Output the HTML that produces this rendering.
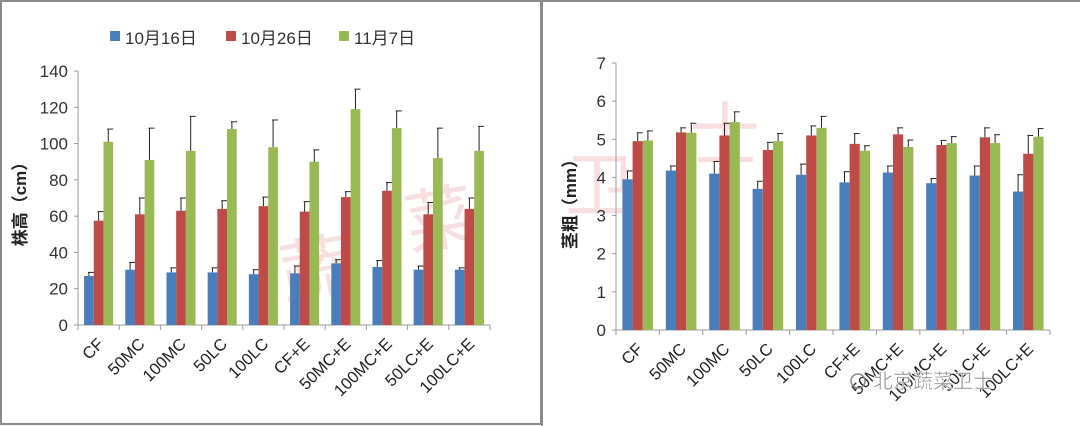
<!DOCTYPE html>
<html><head><meta charset="utf-8">
<style>
html,body{margin:0;padding:0;background:#fff;}
svg{display:block;font-family:"Liberation Sans","Noto Sans CJK SC",sans-serif;}
</style></head>
<body>
<svg id="s" width="1080" height="426" viewBox="0 0 1080 426" xmlns="http://www.w3.org/2000/svg">
<rect x="0" y="0" width="1080" height="426" fill="#fff"/>
<rect x="1" y="1" width="540" height="423" fill="none" stroke="#8a8a8a" stroke-width="2"/>
<line x1="542" y1="0" x2="542" y2="426" stroke="#8a8a8a" stroke-width="2"/>
<line x1="542" y1="1" x2="1080" y2="1" stroke="#8a8a8a" stroke-width="2"/>
<g font-size="70" fill="#f3caca" font-family="'Noto Sans CJK SC',sans-serif" opacity="0.6">
<text x="285" y="300" transform="rotate(-10 285 300)">蔬</text>
<text x="410" y="250" transform="rotate(-10 410 250)">菜</text>
<text x="565" y="210">卫</text>
<text x="690" y="160">士</text>
</g>
<rect x="110" y="31" width="10" height="10" fill="#4a7ebb"/>
<text x="125" y="44" font-size="17" fill="#333">10月16日</text>
<rect x="226" y="31" width="10" height="10" fill="#be4b48"/>
<text x="241" y="44" font-size="17" fill="#333">10月26日</text>
<rect x="339" y="31" width="10" height="10" fill="#98b954"/>
<text x="354" y="44" font-size="17" fill="#333">11月7日</text>
<text transform="translate(26 200) rotate(-90)" text-anchor="middle" font-size="17" font-weight="bold" fill="#222">株高（cm）</text>
<text transform="translate(576 200) rotate(-90)" text-anchor="middle" font-size="17" font-weight="bold" fill="#222">茎粗（mm）</text>
<g id="c"></g>
<text x="873" y="388" font-size="20" fill="#888" stroke="#fff" stroke-width="0.5">北京蔬菜卫士</text>
<circle cx="858" cy="381" r="7" fill="none" stroke="#888" stroke-width="1.5"/>
</svg>
<script>
var cats=["CF","50MC","100MC","50LC","100LC","CF+E","50MC+E","100MC+E","50LC+E","100LC+E"];
var cols=["#4a7ebb","#be4b48","#98b954"];
var L={x0:78,x1:490,y0:325,ymax:140,ytop:71,step:20,
v:[[27,30.5,29,29,28,28.5,34,32,30.5,30.5],[57.5,61,63,64,65.5,62.5,70.5,74,61,64],[101,91,96,108,98,90,119,108.5,92,96]],
e:[[29,34.5,31.5,31.5,30.5,32.5,36,35.5,32.5,31.5],[62.5,70,70,68.5,70.5,68,73.5,78.5,67.5,70],[108,108.5,115,112,113,96.5,130,118,108.5,109.5]]};
var R={x0:616,x1:1050,y0:330,ymax:7,ytop:63,step:1,
v:[[3.95,4.18,4.1,3.7,4.07,3.87,4.13,3.85,4.05,3.63],[4.95,5.18,5.1,4.72,5.1,4.88,5.13,4.85,5.05,4.62],[4.97,5.17,5.45,4.95,5.3,4.7,4.8,4.9,4.9,5.07]],
e:[[4.17,4.3,4.42,3.9,4.35,4.15,4.3,3.97,4.3,4.07],[5.17,5.3,5.42,4.92,5.35,5.15,5.3,4.97,5.3,5.1],[5.22,5.42,5.72,5.15,5.6,4.83,4.98,5.07,5.12,5.28]]};
var h="";
[L,R].forEach(function(C){
 var sc=(C.y0-C.ytop)/C.ymax, cw=(C.x1-C.x0)/10, bw=cw*0.235;
 h+='<line x1="'+C.x0+'" y1="'+C.ytop+'" x2="'+C.x0+'" y2="'+C.y0+'" stroke="#999"/>';
 h+='<line x1="'+(C.x0-4)+'" y1="'+C.y0+'" x2="'+C.x1+'" y2="'+C.y0+'" stroke="#999"/>';
 for(var t=0;t<=C.ymax+1e-9;t+=C.step){var y=C.y0-t*sc;
  h+='<line x1="'+(C.x0-4)+'" y1="'+y+'" x2="'+C.x0+'" y2="'+y+'" stroke="#999"/>';
  h+='<text x="'+(C.x0-10)+'" y="'+(y+6)+'" text-anchor="end" font-size="17" fill="#333">'+Math.round(t)+'</text>';}
 for(var i=0;i<=10;i++){var x=C.x0+i*cw;h+='<line x1="'+x+'" y1="'+C.y0+'" x2="'+x+'" y2="'+(C.y0+5)+'" stroke="#999"/>';}
 for(var i=0;i<10;i++){var cx=C.x0+(i+0.5)*cw;
  for(var s=0;s<3;s++){var bx=cx-1.5*bw+s*bw, y=C.y0-C.v[s][i]*sc, ey=C.y0-C.e[s][i]*sc, mx=bx+bw/2;
   h+='<rect x="'+bx+'" y="'+y+'" width="'+bw+'" height="'+(C.y0-y)+'" fill="'+cols[s]+'"/>';
   h+='<line x1="'+mx+'" y1="'+y+'" x2="'+mx+'" y2="'+ey+'" stroke="#222" stroke-width="1"/>';
   h+='<line x1="'+(mx-1)+'" y1="'+ey+'" x2="'+(mx+5)+'" y2="'+ey+'" stroke="#222" stroke-width="1"/>';}
  var lx=cx+6, ly=C.y0+20;
  h+='<text transform="translate('+lx+' '+ly+') rotate(-45)" text-anchor="end" font-size="16.5" fill="#222">'+cats[i]+'</text>';}
});
document.getElementById("c").innerHTML=h;
</script>
</body></html>
